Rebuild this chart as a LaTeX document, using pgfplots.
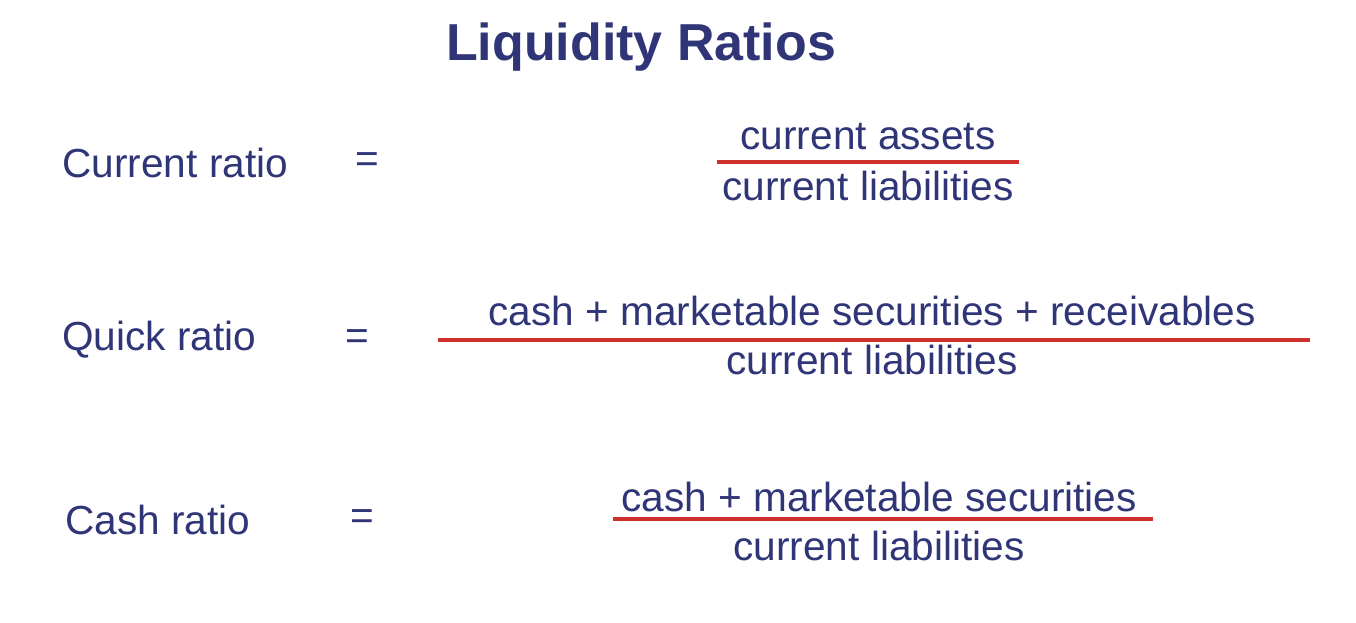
\documentclass[border=0pt]{standalone}
\usepackage{pgfplots}
\pgfplotsset{compat=1.18}
\usepackage{fontspec}
\setmainfont{Liberation Sans}
\definecolor{navy}{HTML}{2F3576}
\definecolor{rline}{HTML}{D0302C}
\begin{document}
\begin{tikzpicture}
\begin{axis}[width=678pt,height=311pt,scale only axis,xmin=0,xmax=1356,ymin=0,ymax=622,y dir=reverse,hide axis,clip=false]
\draw[draw=none] (axis cs:0,0) rectangle (axis cs:1356,622);
\addplot[rline,line width=1.6pt] coordinates {(717,162) (1019,162)};
\addplot[rline,line width=1.6pt] coordinates {(438,340) (1310,340)};
\addplot[rline,line width=1.6pt] coordinates {(613,519) (1153,519)};
\tikzset{every node/.style={text=navy,font=\fontsize{20.3pt}{24pt}\selectfont,inner sep=0pt}}
\node[font=\fontsize{26pt}{30pt}\selectfont\bfseries] at (axis cs:641,47) {Liquidity Ratios};
\node[anchor=west] at (axis cs:62,163) {Current ratio};
\node at (axis cs:367,163) {=};
\node at (axis cs:868,137) {current assets};
\node at (axis cs:868,186) {current liabilities};
\node[anchor=west] at (axis cs:62,340) {Quick ratio};
\node at (axis cs:357,340) {=};
\node at (axis cs:872,311) {cash + marketable securities + receivables};
\node at (axis cs:872,360) {current liabilities};
\node[anchor=west] at (axis cs:65,520) {Cash ratio};
\node at (axis cs:362,520) {=};
\node at (axis cs:879,497) {cash + marketable securities};
\node at (axis cs:879,546) {current liabilities};
\end{axis}
\end{tikzpicture}
\end{document}
